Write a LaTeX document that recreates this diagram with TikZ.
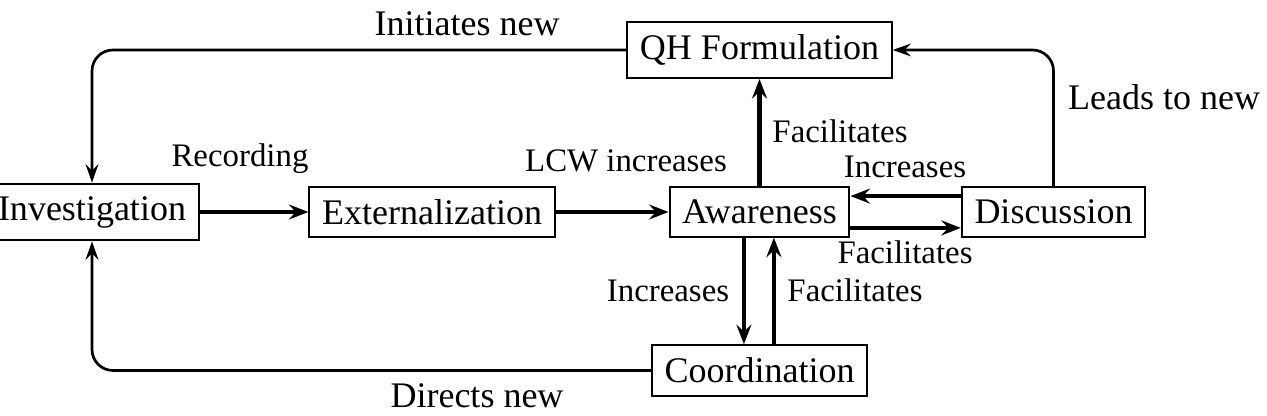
\documentclass[tikz,border=0pt]{standalone}
\usepackage{fontspec}
\setmainfont{Liberation Serif}
\usetikzlibrary{arrows.meta}
\begin{document}
\begin{tikzpicture}[x=0.3333pt,y=-0.3333pt,
  box/.style={draw,line width=0.7pt,inner sep=4.2pt,font=\fontsize{12}{14}\selectfont},
  big/.style={font=\fontsize{12}{14}\selectfont,inner sep=0pt,anchor=base},
  small/.style={font=\fontsize{10.95}{13}\selectfont,inner sep=0pt,anchor=base},
  main/.style={line width=1.5pt,-{Stealth[length=6.5pt,width=5pt,inset=2.3pt]}},
  loopedge/.style={line width=0.9pt,rounded corners=7pt,-{Stealth[length=6pt,width=4.2pt,inset=2pt]}}]
\useasboundingbox (0,0) rectangle (1267,416);
% nodes
\node[box] (inv) at (92,212) {Investigation};
\node[box] (ext) at (432,212) {Externalization};
\node[box] (aw) at (759.5,212) {Awareness};
\node[box] (disc) at (1053.5,212) {Discussion};
\node[box] (qh) at (759.5,50) {QH Formulation};
\node[box] (coord) at (759.5,370.5) {Coordination};
% connectors
\draw[loopedge] (qh.west) -| (inv.north);
\draw[loopedge] (coord.west) -| (inv.south);
\draw[loopedge] (disc.north) |- (qh.east);
\draw[main] (inv) -- (ext);
\draw[main] (ext) -- (aw);
\draw[main] (aw) -- (qh);
\draw[main] ([yshift=5.3pt]disc.west) -- ([yshift=5.3pt]aw.east);
\draw[main] ([yshift=-5.3pt]aw.east) -- ([yshift=-5.3pt]disc.west);
\draw[main] ([xshift=-5.2pt]aw.south) -- ([xshift=-5.2pt]coord.north);
\draw[main] ([xshift=4.8pt]coord.north) -- ([xshift=4.8pt]aw.south);
% labels
\node[big] (l1) at (467,36) {Initiates new};
\node[big] (l2) at (1164,110) {Leads to new};
\node[big] (l3) at (477,408) {Directs new};
\node[small] (l4) at (240,167) {Recording};
\node[small] (l5) at (626,172) {LCW increases};
\node[small] (l6) at (840,143) {Facilitates};
\node[small] (l7) at (905,178) {Increases};
\node[small] (l8) at (905,264) {Facilitates};
\node[small] (l9) at (668,302) {Increases};
\node[small] (l10) at (855,302) {Facilitates};
\end{tikzpicture}
\end{document}
